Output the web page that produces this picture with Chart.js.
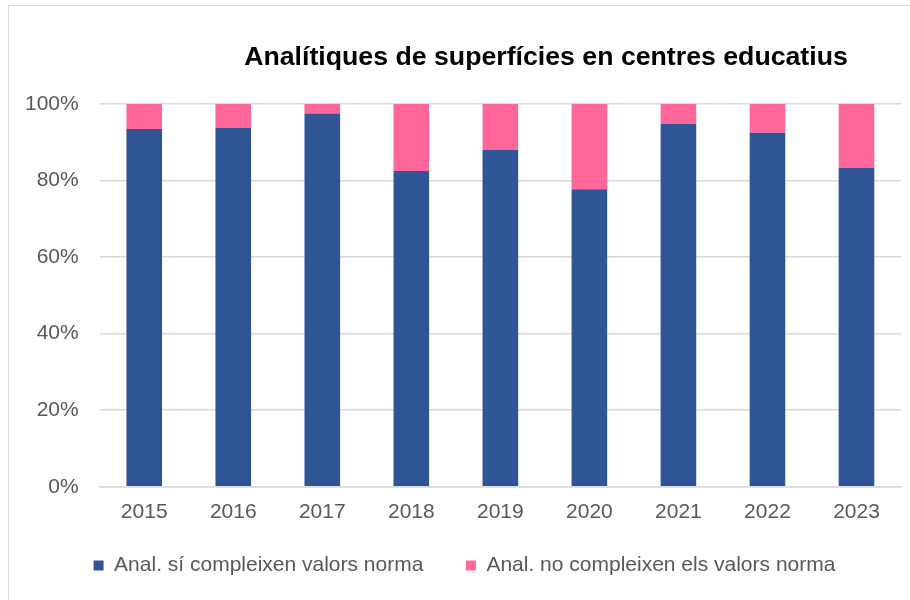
<!DOCTYPE html>
<html>
<head>
<meta charset="utf-8">
<script src="https://cdn.jsdelivr.net/npm/chart.js@4"></script>
<style>
    body { margin: 0; background: #fff; }
    #frame { position: absolute; left: 8px; top: 5px; width: 1000px; height: 1000px; border: 1px solid #d9d9d9; }
    #wrap { position: relative; width: 910px; height: 600px; }
</style>
</head>
<body>
<div id="wrap">
    <div id="frame"></div>
    <canvas id="chartSup" width="910" height="600" style="position:absolute;left:0;top:0"></canvas>
</div>
<script>
const anys = ["2015", "2016", "2017", "2018", "2019", "2020", "2021", "2022", "2023"];
const compleixen = [93.5, 93.7, 97.5, 82.5, 88.0, 77.7, 94.8, 92.5, 83.3];
const noCompleixen = [6.5, 6.3, 2.5, 17.5, 12.0, 22.3, 5.2, 7.5, 16.7];
const titol = "Analítiques de superfícies en centres educatius";
const font = "'Liberation Sans', Arial, sans-serif";

// títol dibuixat a mà perquè no està centrat al llenç
const titolPlugin = {
    id: "titolPlugin",
    afterLayout(c) {
        // la llegenda està una mica desplaçada a la dreta
        c.legend.left += 12;
        c.legend.right += 12;
    },
    afterDraw(c) {
        const ctx = c.ctx;
        ctx.save();
        ctx.font = "bold 26.7px " + font;
        ctx.fillStyle = "#000";
        ctx.textAlign = "center";
        ctx.textBaseline = "middle";
        ctx.fillText(titol, 546, 58);
        ctx.restore();
    }
};

const ctx = document.getElementById("chartSup").getContext("2d");
new Chart(ctx, {
    type: "bar",
    data: {
        labels: anys,
        datasets: [{
            label: "Anal. sí compleixen valors norma",
            data: compleixen,
            backgroundColor: "#2F5597"
        }, {
            label: "Anal. no compleixen els valors norma",
            data: noCompleixen,
            backgroundColor: "#FF6699"
        }]
    },
    options: {
        responsive: false,
        animation: false,
        layout: { padding: { left: 4, right: 9, top: 104, bottom: 14 } },
        datasets: { bar: { barPercentage: 0.4, categoryPercentage: 1 } },
        plugins: {
            title: { display: false },
            tooltip: { enabled: false },
            legend: {
                position: "bottom",
                labels: {
                    boxWidth: 10,
                    boxHeight: 10,
                    padding: 25,
                    color: "#595959",
                    font: { family: font, size: 21 },
                    // espai extra entre els dos elements
                    generateLabels: ch => Chart.defaults.plugins.legend.labels.generateLabels(ch)
                        .map((l, i) => i === 0 ? { ...l, text: l.text + "   " } : l)
                }
            }
        },
        scales: {
            x: {
                stacked: true,
                grid: { display: false },
                border: { color: "#d9d9d9", width: 1.5 },
                ticks: { color: "#595959", padding: 5, font: { family: font, size: 21 } }
            },
            y: {
                stacked: true,
                min: 0,
                max: 100,
                border: { display: false },
                grid: { color: "#d9d9d9", lineWidth: 1.5, drawTicks: false },
                ticks: {
                    stepSize: 20,
                    padding: 21,
                    color: "#595959",
                    font: { family: font, size: 21 },
                    callback: v => v + "%"
                }
            }
        }
    },
    plugins: [titolPlugin]
});
</script>
</body>
</html>
